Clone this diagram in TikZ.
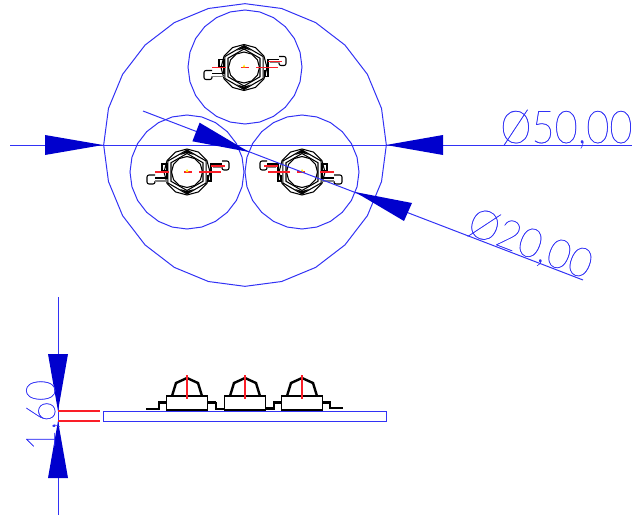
\documentclass[tikz,border=0pt]{standalone}
\usepackage{fontspec}
\newfontfamily\cadfont[FakeBold=0.6]{Lato Hairline}
\usetikzlibrary{shapes.geometric}
\definecolor{cadblue}{RGB}{0,0,205}
\definecolor{cadline}{RGB}{50,50,245}
\definecolor{cadred}{RGB}{250,30,40}
\tikzset{
  geom/.style={draw=cadline,line width=0.75pt,regular polygon,regular polygon sides=24,shape border rotate=7.5,inner sep=0pt,outer sep=0pt},
  dim/.style={draw=cadline,line width=0.75pt},
  head/.style={fill=cadblue,draw=none},
  cadtext/.style={text=cadline,inner sep=0pt,font=\cadfont\fontsize{34}{34}\selectfont,transform shape},
  ink/.style={draw=black,line width=0.8pt},
  inkb/.style={draw=black,line width=1.8pt},
  redl/.style={draw=cadred,line width=0.9pt},
  led/.pic={
    \draw[ink] (90:23) \foreach \a in {120,150,...,420}{ -- (\a:23)} -- cycle;
    \draw[ink] (90:22) -- (30:22) -- (-30:22) -- (-90:22) -- (-150:22) -- (150:22) -- cycle;
    \draw[ink] (90:18.5) -- (30:18.5) -- (-30:18.5) -- (-90:18.5) -- (-150:18.5) -- (150:18.5) -- cycle;
    \draw[ink] (0:15.5) \foreach \a in {30,60,...,330}{ -- (\a:15.5)} -- cycle;
    \fill[black] (-7,-17) -- (0,-22) -- (7,-17) -- (0,-19) -- cycle;
    \fill[black] (-7,17) -- (0,22) -- (7,17) -- (0,19) -- cycle;
    \draw[ink,rounded corners=1.5pt] (-32,3) -- (-40,3) -- (-40,12) -- (-32,12) -- (-32,9);
    \draw[ink] (-32,6) -- (-20,6) -- (-20,-8) -- (-25,-8) -- (-25,-1) -- (-20,-1);
    \draw[draw=gray,line width=0.8pt] (-32,9) -- (-20,9);
    \draw[ink,rounded corners=1.5pt] (35,-11) -- (42,-11) -- (42,-2) -- (35,-2) -- (35,-5);
    \draw[ink] (35,-8) -- (24,-8) -- (24,9) -- (21,9) -- (21,3);
    \draw[draw=gray,line width=0.8pt] (35,-5) -- (26,-5);
    \draw[redl] (-32,0) -- (-18,0) (-3,0) -- (5,0) (12,0) -- (34,0) (24,-6) -- (38,-6);
    \fill[yellow] (-1.5,0) -- (0,-3) -- (1.5,0) -- cycle;
  },
  ledside/.pic={
    \draw[ink,fill=white] (-20.5,0) rectangle (20.5,14);
    \draw[inkb] (-20.5,0) -- (20.5,0);
    \draw[inkb] (-17,14) -- (17,14);
    \draw[inkb] (-15,0) -- (-11,-13) -- (0,-18) -- (11,-13) -- (15,0);
    \draw[draw=cadred,line width=1.2pt] (0,-21) -- (0,3);
  }
}
\begin{document}
\begin{tikzpicture}[x=0.75pt,y=-0.75pt]
\useasboundingbox (0,0) rectangle (643,517);
% plan: circles
\node[geom,minimum size=212pt] (big) at (245,145) {};
\node[geom,minimum size=85.5pt] (ctop) at (245,67) {};
\node[geom,minimum size=85.5pt] (cleft) at (187,172) {};
\node[geom,minimum size=85.5pt] (cright) at (302,172) {};
% plan: LEDs
\pic at (244,67.5) {led};
\pic at (187,172) {led};
\pic[xscale=-1] at (302,172) {led};
% Ø50 dimension
\coordinate (a1) at (10,145);
\coordinate (a2) at (103,145);
\coordinate (a3) at (386,145);
\coordinate (a4) at (632,145);
\draw[dim] (a1) -- (a4);
\fill[head] (a2) -- (45,135) -- (45,155) -- cycle;
\fill[head] (a3) -- (443,135) -- (443,155) -- cycle;
\node[cadtext,anchor=base west,xscale=0.88] (t50) at (500,143) {Ø50,00};
% Ø20 dimension
\coordinate (b1) at (143,111);
\coordinate (b2) at (249,152);
\coordinate (b3) at (355,192);
\coordinate (b4) at (583,280);
\draw[dim] (b1) -- (b4);
\fill[head] (b2) -- (192.4,141.3) -- (199.6,122.7) -- cycle;
\fill[head] (b3) -- (404,221) -- (412,203) -- cycle;
\node[cadtext,anchor=base west,rotate=-21,xscale=0.86,yscale=0.9] (t20) at (465,233) {Ø20,00};
% side view
\node[draw=cadline,line width=0.75pt,minimum width=212.25pt,minimum height=7.5pt,inner sep=0pt,outer sep=0pt] (board) at (244.5,416) {};
\draw[inkb] (146,409) -- (159,409);
\draw[inkb] (159,410) -- (159,402.5) -- (166,402.5);
\draw[ink] (208,402.5) -- (216,402.5) -- (216,409) -- (224,409);
\draw[inkb] (208,402.5) -- (216,402.5);
\draw[inkb] (266,408.5) -- (274,408.5) -- (274,402.5) -- (282,402.5);
\draw[inkb] (323,402.5) -- (330,402.5) -- (330,408) -- (336,408);
\draw[ink] (336,408) -- (343,408);
\pic at (187,396) {ledside};
\pic at (245,396) {ledside};
\pic at (302,396) {ledside};
% 1,60 dimension
\coordinate (c1) at (58,297);
\coordinate (c2) at (58,411);
\coordinate (c3) at (58,421);
\coordinate (c4) at (58,515);
\draw[dim] (c1) -- (c4);
\fill[head] (c2) -- (48,354) -- (68,354) -- cycle;
\fill[head] (c3) -- (48,478) -- (68,478) -- cycle;
\draw[redl] (c2) -- (100,411);
\draw[redl] (c3) -- (100,421);
\node[cadtext,anchor=base west,rotate=90,xscale=0.8,yscale=0.9] (t16) at (55,451) {1,60};
\end{tikzpicture}
\end{document}
